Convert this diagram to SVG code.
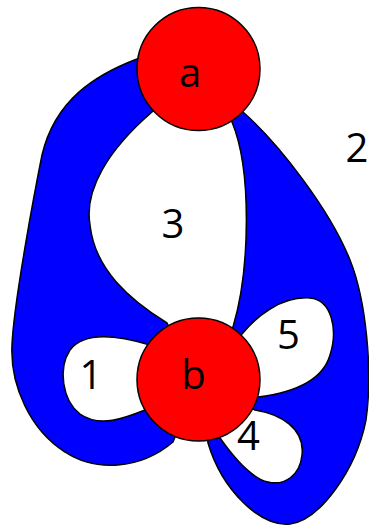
<svg xmlns="http://www.w3.org/2000/svg" width="369" height="526" viewBox="0 0 369 526">
<style>
.band{fill:#0000ff;stroke:#000;stroke-width:1.5;stroke-linejoin:round}
.loop{fill:#fff;stroke:#000;stroke-width:1.5;stroke-linejoin:round}
.node{fill:#ff0000;stroke:#000;stroke-width:1.5}
.lbl{font-family:"Open Sans","DejaVu Sans",sans-serif;font-size:40px;fill:#000;text-anchor:middle}
</style>
<rect width="369" height="526" fill="#fff"/>
<g id="connectors">
<g id="edge2">
<path class="band" d="M243,112 C280,145 330,210 350,260 C366,300 373,370 366,420 C356,470 320,520 290,524 C260,527 222,490 208,443 L198,380 L233,327 C250,270 252,170 232,122 L198,69 Z"/>
<text class="lbl" x="357" y="162">2</text>
</g>
<g id="edge3">
<path class="band" d="M137,59 C95,75 55,100 42,155 C36,185 14,300 12,345 C10,385 30,430 65,452 C95,472 140,470 173,442 L198,380 L167,323 C130,300 95,270 90,225 C84,190 108,150 152,112 L198,69 Z"/>
<text class="lbl" x="173" y="238">3</text>
</g>
<g id="edge1">
<path class="loop" d="M150,345 C120,336 85,330 70,350 C58,368 62,400 80,414 C100,428 125,418 145,410 L198,380 Z"/>
<text class="lbl" x="91" y="389">1</text>
</g>
<g id="edge5">
<path class="loop" d="M242,334 C255,318 280,296 310,298 C332,300 338,330 330,355 C322,383 290,393 258,397 L198,380 Z"/>
<text class="lbl" x="288.5" y="349">5</text>
</g>
<g id="edge4">
<path class="loop" d="M255,410 C280,414 305,428 302,455 C300,475 285,486 268,482 C250,478 232,455 220,438 L198,380 Z"/>
<text class="lbl" x="248.5" y="450">4</text>
</g>
</g>
<g id="node-a">
<circle class="node" cx="198.5" cy="69" r="61.5"/>
<text class="lbl" x="190" y="87">a</text>
</g>
<g id="node-b">
<circle class="node" cx="198.5" cy="379.5" r="61.5"/>
<text class="lbl" x="193.5" y="389">b</text>
</g>
</svg>
